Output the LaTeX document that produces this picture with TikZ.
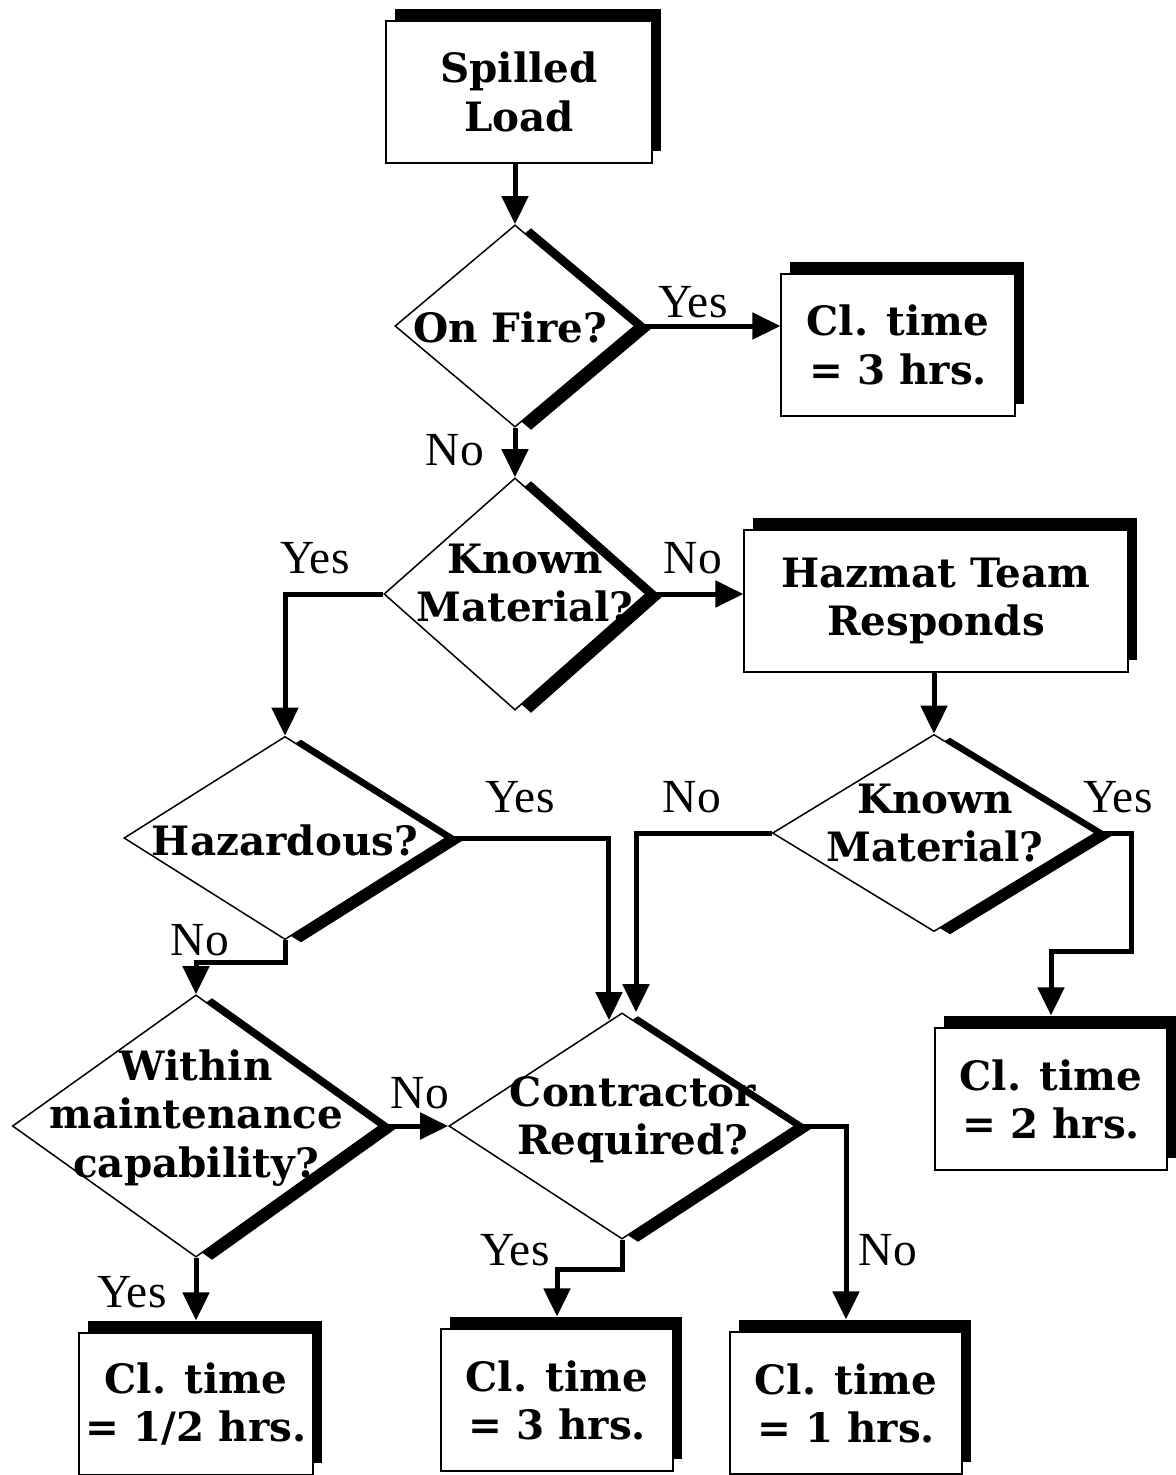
\documentclass[tikz,border=0pt]{standalone}
\usepackage{fontspec}
\setmainfont{DejaVu Serif}
\newfontfamily\answerfont{Liberation Serif}
\usepackage{tikz}
\usetikzlibrary{shapes.geometric, arrows.meta, shadows}
\tikzstyle{box} = [
    rectangle, draw, fill=white, align=center,
    line width=0.02cm, inner xsep=1pt,
    minimum width=2.33cm,
    minimum height=1.41cm,
    general shadow={fill=black, shadow xshift=0.09cm, shadow yshift=0.12cm},
    font=\bfseries\fontsize{11.5}{13.7}\selectfont,
]
\tikzstyle{decision} = [
    diamond, draw, fill=white, inner sep=0pt,
    line width=0.015cm,
    general shadow={fill=black, shadow xshift=0.16cm, shadow yshift=-0.03cm},
]
\tikzstyle{question} = [align=center, font=\bfseries\fontsize{11.5}{13.7}\selectfont]
\tikzstyle{answer} = [font=\answerfont\fontsize{13.5}{15}\selectfont]
\tikzstyle{arrow} = [-{Triangle[length=0.28cm,width=0.26cm]}, line width=0.05cm]

\begin{document}
\begin{tikzpicture}[x=0.01cm, y=-0.01cm]
    \useasboundingbox (0,0) rectangle (1176,1475);

    % boxes
    \node (spill) at (519,92) [box, minimum width=2.65cm] {Spilled\\Load};
    \node (hrs3a) at (898,345) [box] {Cl. time\\= 3 hrs.};
    \node (hazmat) at (936,601) [box, minimum width=3.83cm] {Hazmat Team\\Responds};
    \node (hrs2) at (1051,1099) [box, minimum width=2.32cm] {Cl. time\\= 2 hrs.};
    \node (hrshalf) at (196,1404) [box] {Cl. time\\= 1/2 hrs.};
    \node (hrs3b) at (557,1400) [box, minimum width=2.31cm] {Cl. time\\= 3 hrs.};
    \node (hrs1) at (846,1403) [box, minimum width=2.32cm] {Cl. time\\= 1 hrs.};

    % decisions
    \node (fire) at (515,326) [decision, minimum width=2.40cm, minimum height=2.02cm] {};
    \node (known) at (515,594) [decision, minimum width=2.62cm, minimum height=2.32cm] {};
    \node (hazard) at (285,838) [decision, minimum width=3.22cm, minimum height=2.03cm] {};
    \node (known2) at (934,833) [decision, minimum width=3.23cm, minimum height=1.97cm] {};
    \node (within) at (196,1126) [decision, minimum width=3.67cm, minimum height=2.62cm] {};
    \node (contr) at (622,1126) [decision, minimum width=3.46cm, minimum height=2.26cm] {};

    % questions
    \node (fire-q) at (510,327) [question] {On Fire?};
    \node (known-q) at (525,583) [question] {Known\\Material?};
    \node (hazard-q) at (285,840) [question] {Hazardous?};
    \node (known2-q) at (935,823) [question] {Known\\Material?};
    \node (within-q) at (196,1118) [question] {Within\\maintenance\\capability?};
    \node (contr-q) at (633,1120) [question] {Contractor\\Required?};

    % answers
    \node (fire-yes) at (693,302) [answer] {Yes};
    \node (fire-no) at (455,450) [answer] {No};
    \node (known-yes) at (315,558) [answer] {Yes};
    \node (known-no) at (693,558) [answer] {No};
    \node (hazard-yes) at (520,797) [answer] {Yes};
    \node (hazard-no) at (200,940) [answer] {No};
    \node (known2-no) at (692,797) [answer] {No};
    \node (known2-yes) at (1118,797) [answer] {Yes};
    \node (within-no) at (420,1093) [answer] {No};
    \node (within-yes) at (132,1292) [answer] {Yes};
    \node (contr-yes) at (515,1250) [answer] {Yes};
    \node (contr-no) at (888,1250) [answer] {No};

    % arrows
    \draw [arrow] (spill.south -| fire.north) -- (fire.north);
    \draw [arrow] (fire.east) -- (fire.east -| hrs3a.west);
    \draw [arrow] (fire.south) -- (known.north);
    \draw [arrow] (known.east) -- (known.east -| hazmat.west);
    \draw [arrow] (known.west) -| (hazard.north);
    \draw [arrow] (hazmat.south -| known2.north) -- (known2.north);
    \draw [arrow] (known2.east) -- ++(35,0) -- ++(0,118) -| ([yshift=0.12cm]hrs2.north);
    \draw [arrow] (known2.west) -| ([xshift=0.14cm]contr.north);
    \draw [arrow] (hazard.east) -| ([xshift=-0.13cm, yshift=-0.08cm]contr.north);
    \draw [arrow] (hazard.south) -- ++(0,22) -| (within.north);
    \draw [arrow] (within.east) -- (contr.west);
    \draw [arrow] (within.south) -- ([yshift=0.12cm]hrshalf.north);
    \draw [arrow] (contr.south) -- ++(0,30) -| ([yshift=0.12cm]hrs3b.north);
    \draw [arrow] (contr.east) -| ([yshift=0.12cm]hrs1.north);
\end{tikzpicture}
\end{document}
